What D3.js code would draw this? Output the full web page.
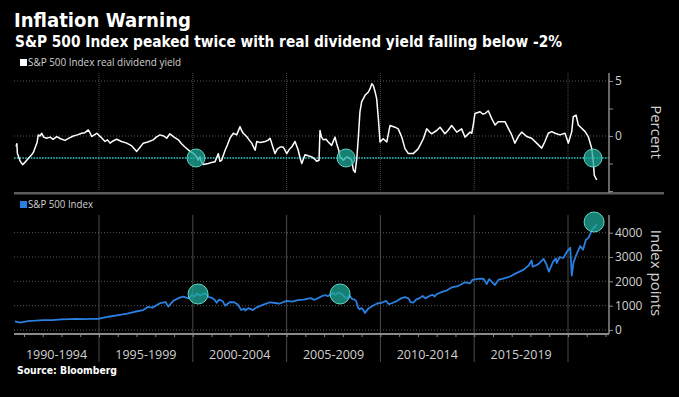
<!DOCTYPE html>
<html>
<head>
<meta charset="utf-8">
<script src="https://cdn.jsdelivr.net/npm/d3@7"></script>
<style>
  html, body { margin: 0; padding: 0; background: #000; }
  svg { display: block; font-family: "Open Sans", "DejaVu Sans", sans-serif; }
</style>
</head>
<body>
<svg width="679" height="397"></svg>
<script>
const svg = d3.select("svg");
const width = +svg.attr("width");
const height = +svg.attr("height");

// real dividend yield (percent)
const yieldYears = [1990.58,1990.62,1990.65,1990.8,1990.93,1991.05,1991.15,1991.3,1991.41,1991.5,1991.59,1991.7,1991.76,1991.85,1991.95,1992.05,1992.21,1992.4,1992.55,1992.75,1992.95,1993.19,1993.4,1993.63,1993.85,1994.08,1994.25,1994.43,1994.52,1994.61,1994.75,1994.88,1995.1,1995.32,1995.45,1995.59,1995.75,1995.94,1996.2,1996.48,1996.75,1997.01,1997.2,1997.36,1997.6,1997.89,1998.05,1998.25,1998.45,1998.61,1998.78,1999.0,1999.23,1999.4,1999.58,1999.85,2000.05,2000.21,2000.29,2000.38,2000.45,2000.56,2000.83,2001.0,2001.18,2001.36,2001.45,2001.54,2001.72,2001.85,2001.98,2002.16,2002.34,2002.52,2002.6,2002.69,2002.87,2003.0,2003.14,2003.32,2003.41,2003.6,2003.85,2004.0,2004.12,2004.25,2004.38,2004.5,2004.65,2004.82,2005.01,2005.15,2005.27,2005.45,2005.62,2005.72,2005.81,2005.98,2006.15,2006.34,2006.5,2006.6,2006.73,2006.76,2006.78,2006.86,2006.96,2007.1,2007.22,2007.4,2007.58,2007.67,2007.78,2007.85,2008.02,2008.2,2008.35,2008.47,2008.56,2008.65,2008.74,2008.82,2008.91,2009.0,2009.18,2009.36,2009.45,2009.54,2009.62,2009.72,2009.8,2009.89,2009.98,2010.15,2010.34,2010.51,2010.78,2010.95,2011.14,2011.31,2011.49,2011.75,2012.02,2012.29,2012.47,2012.6,2012.73,2013.0,2013.18,2013.44,2013.6,2013.8,2014.07,2014.33,2014.51,2014.78,2014.87,2014.95,2015.04,2015.31,2015.45,2015.58,2015.75,2015.93,2016.11,2016.28,2016.64,2016.82,2017.0,2017.17,2017.35,2017.53,2017.8,2018.06,2018.33,2018.6,2018.77,2018.95,2019.13,2019.31,2019.57,2019.84,2020.02,2020.2,2020.28,2020.43,2020.55,2020.73,2020.91,2021.08,2021.26,2021.35,2021.4,2021.53];
const yieldValues = [-0.95,-0.7,-1.6,-2.3,-2.6,-2.4,-2.2,-1.9,-1.7,-1.5,-1.1,-0.6,0.1,0.0,0.25,-0.1,-0.2,-0.1,-0.3,-0.05,-0.25,-0.4,-0.2,0.0,0.1,0.25,0.3,0.55,0.3,-0.05,0.1,0.25,-0.1,-0.5,-0.35,-0.65,-0.45,-0.3,-0.5,-0.65,-0.9,-1.4,-1.0,-0.65,-0.55,-0.35,-0.1,0.1,0.0,-0.2,0.2,-0.1,-0.35,-0.7,-1.0,-1.4,-1.6,-1.9,-2.2,-1.9,-2.3,-2.6,-2.5,-2.4,-2.35,-1.6,-2.3,-2.2,-1.3,-0.8,-0.2,0.25,0.1,0.85,0.5,0.25,-0.05,-0.35,-0.65,-1.3,-0.5,-0.6,-0.5,-0.4,-0.2,-0.9,-1.6,-1.2,-1.0,-1.0,-1.6,-1.2,-1.0,-0.5,-1.3,-2.0,-2.5,-1.7,-1.8,-1.9,-2.1,-2.3,-2.2,-0.5,0.5,-0.1,-0.35,-0.3,-0.55,-0.85,-0.1,-0.7,-1.3,-1.9,-2.2,-1.9,-2.0,-2.2,-3.1,-3.3,-2.05,-0.25,2.2,3.1,3.7,4.0,4.3,4.75,4.6,4.0,3.4,1.6,-0.55,-0.25,-0.55,0.95,0.8,0.65,-0.1,-1.15,-1.6,-1.6,-1.15,-0.25,0.65,0.4,0.2,0.5,0.8,0.2,0.5,0.95,0.35,0.65,-0.1,0.35,0.25,1.0,2.05,2.2,2.0,2.05,2.3,1.6,1.0,1.3,1.3,0.7,0.1,-0.65,-0.05,0.35,-0.05,-0.2,-0.65,-1.1,-0.5,0.25,0.4,0.25,0.1,0.25,-0.65,0.4,1.75,1.9,1.0,0.7,0.4,-0.05,-1.1,-2.35,-3.55,-4.0];

// S&P 500 index level
const spxYears = [1990.52,1990.65,1990.79,1991.0,1991.3,1991.6,1992.03,1992.5,1993.0,1993.81,1994.2,1994.6,1994.96,1995.5,1996.12,1996.5,1996.9,1997.36,1997.6,1997.85,1998.25,1998.55,1998.69,1998.96,1999.3,1999.49,1999.65,1999.8,1999.94,2000.1,2000.22,2000.38,2000.55,2000.7,2000.85,2001.0,2001.15,2001.27,2001.4,2001.6,2001.72,2001.98,2002.2,2002.4,2002.52,2002.58,2002.75,2002.8,2002.96,2003.2,2003.41,2003.6,2003.8,2004.12,2004.4,2004.6,2005.01,2005.3,2005.6,2005.89,2006.3,2006.45,2006.6,2006.9,2007.1,2007.2,2007.45,2007.6,2007.8,2007.95,2008.1,2008.2,2008.35,2008.5,2008.6,2008.7,2008.82,2008.9,2009.0,2009.09,2009.18,2009.36,2009.6,2009.8,2010.07,2010.3,2010.45,2010.6,2010.87,2011.1,2011.31,2011.5,2011.6,2011.75,2011.9,2012.11,2012.25,2012.4,2012.64,2012.8,2012.9,2013.0,2013.35,2013.5,2013.8,2014.07,2014.3,2014.5,2014.78,2014.9,2015.2,2015.49,2015.67,2015.8,2016.02,2016.1,2016.3,2016.5,2016.91,2017.3,2017.62,2017.9,2018.06,2018.12,2018.4,2018.7,2018.85,2018.98,2019.2,2019.35,2019.4,2019.55,2019.75,2019.95,2020.12,2020.2,2020.3,2020.45,2020.65,2020.8,2020.95,2021.1,2021.3,2021.44,2021.53];
const spxValues = [356,330,300,330,375,385,410,410,435,460,450,460,460,545,620,670,750,820,950,920,1100,1150,960,1200,1330,1370,1330,1300,1440,1380,1500,1420,1480,1500,1350,1330,1250,1120,1250,1180,1000,1150,1140,1050,900,820,880,800,900,820,930,990,1050,1140,1110,1080,1200,1170,1230,1250,1310,1240,1280,1400,1430,1390,1520,1450,1540,1470,1350,1290,1420,1270,1260,1200,900,850,900,820,700,880,1000,1080,1120,1200,1060,1100,1190,1300,1350,1300,1150,1130,1250,1320,1400,1300,1410,1440,1380,1470,1590,1610,1750,1790,1870,1960,1920,2060,2100,2110,1890,2090,1920,1850,2070,2100,2200,2360,2470,2650,2860,2600,2700,2920,2700,2400,2800,2940,2750,3000,2960,3230,3380,2240,2800,3100,3450,3300,3700,3800,4150,4250,4350];

const periodStarts = [1990, 1995, 2000, 2005, 2010, 2015, 2020];
const periodLabels = ["1990-1994", "1995-1999", "2000-2004", "2005-2009", "2010-2014", "2015-2019"];
const yieldTicks = [5, 0];
const yieldMinorTicks = [5, 2.5, 0, -2.5, -5];
const spxTicks = [0, 1000, 2000, 3000, 4000];
const threshold = -2;
const yieldHighlightYears = [2000.17, 2008.17, 2021.33];
const spxHighlightYears = [2000.28, 2007.85, 2021.39];
const spxHighlightValues = [1480, 1480, 4440];

const left = 14, right = 609;
const x = d3.scaleLinear().domain([1995, 2020]).range([99, 568]);
const yTop = d3.scaleLinear().domain([-5, 5]).range([191, 81]);
const yBot = d3.scaleLinear().domain([0, 4000]).range([330, 232.7]);

const gridColor = "#4a4a4a";
const axisColor = "#8a8a8a";
const labelColor = "#d0d0d0";
const boldFont = "'DejaVu Sans', 'Verdana', sans-serif";

// titles
svg.append("text").attr("x", 14).attr("y", 27)
    .attr("fill", "#fff").attr("font-size", 20).attr("font-weight", "bold")
    .style("font-family", boldFont)
    .attr("textLength", 177).attr("lengthAdjust", "spacingAndGlyphs")
    .text("Inflation Warning");
svg.append("text").attr("x", 15).attr("y", 47)
    .attr("fill", "#fff").attr("font-size", 15).attr("font-weight", "bold")
    .style("font-family", boldFont)
    .attr("textLength", 547).attr("lengthAdjust", "spacingAndGlyphs")
    .text("S&P 500 Index peaked twice with real dividend yield falling below -2%");

// legends
svg.append("rect").attr("x", 20).attr("y", 59).attr("width", 7).attr("height", 7).attr("fill", "#fff");
svg.append("text").attr("x", 28).attr("y", 66).attr("fill", labelColor).attr("font-size", 10)
    .attr("textLength", 153).attr("lengthAdjust", "spacingAndGlyphs")
    .text("S&P 500 Index real dividend yield");
svg.append("rect").attr("x", 20).attr("y", 201).attr("width", 7).attr("height", 7).attr("fill", "#2a7fe0");
svg.append("text").attr("x", 28).attr("y", 208).attr("fill", labelColor).attr("font-size", 10)
    .attr("textLength", 65).attr("lengthAdjust", "spacingAndGlyphs")
    .text("S&P 500 Index");

// vertical grid lines at period boundaries
const bounds = periodStarts.slice(1, 7);
svg.append("g").selectAll("line").data(bounds).enter().append("line")
    .attr("x1", d => x(d)).attr("x2", d => x(d))
    .attr("y1", 73).attr("y2", 191)
    .attr("stroke", gridColor).attr("stroke-dasharray", "1 1");
svg.append("g").selectAll("line").data(bounds).enter().append("line")
    .attr("x1", d => x(d)).attr("x2", d => x(d))
    .attr("y1", 215).attr("y2", 362)
    .attr("stroke", gridColor);

// horizontal grid
svg.append("g").selectAll("line").data(yieldTicks).enter().append("line")
    .attr("x1", left).attr("x2", right)
    .attr("y1", d => yTop(d)).attr("y2", d => yTop(d))
    .attr("stroke", "#5a5a5a").attr("stroke-dasharray", "1 2");
svg.append("g").selectAll("line").data(spxTicks).enter().append("line")
    .attr("x1", left).attr("x2", right)
    .attr("y1", d => yBot(d)).attr("y2", d => yBot(d))
    .attr("stroke", "#5a5a5a").attr("stroke-dasharray", "1 2");

// separator bar between the panels
svg.append("rect").attr("x", left).attr("y", 192).attr("width", 650).attr("height", 2.5).attr("fill", "#5c5c5c");

// threshold line
svg.append("line").attr("x1", left).attr("x2", right)
    .attr("y1", yTop(threshold)).attr("y2", yTop(threshold))
    .attr("stroke", "#2cc9c9").attr("stroke-width", 1.6).attr("stroke-dasharray", "1.6 1.2");

// series lines
const yieldData = yieldYears.map((d, i) => ({ t: d, v: yieldValues[i] }));
const spxData = spxYears.map((d, i) => ({ t: d, v: spxValues[i] }));

svg.append("path").datum(yieldData)
    .attr("fill", "none").attr("stroke", "#fff").attr("stroke-width", 1.5)
    .attr("stroke-linejoin", "round")
    .attr("d", d3.line().x(d => x(d.t)).y(d => yTop(d.v)));

svg.append("path").datum(spxData)
    .attr("fill", "none").attr("stroke", "#2a7fe0").attr("stroke-width", 1.8)
    .attr("stroke-linejoin", "round")
    .attr("d", d3.line().x(d => x(d.t)).y(d => yBot(d.v)));

// highlight circles
svg.append("g").selectAll("circle").data(yieldHighlightYears).enter().append("circle")
    .attr("cx", d => x(d)).attr("cy", yTop(threshold)).attr("r", 9)
    .attr("fill", "rgba(32,170,155,0.75)").attr("stroke", "#5fd6c6").attr("stroke-width", 1);
svg.append("g").selectAll("circle").data(spxHighlightYears).enter().append("circle")
    .attr("cx", d => x(d)).attr("cy", (d, i) => yBot(spxHighlightValues[i])).attr("r", 10)
    .attr("fill", "rgba(32,170,155,0.75)").attr("stroke", "#5fd6c6").attr("stroke-width", 1);

// right axes
const topAxis = svg.append("g").attr("transform", `translate(${right},0)`)
    .call(d3.axisRight(yTop).tickValues(yieldMinorTicks).tickSize(4)
        .tickFormat(d => yieldTicks.includes(d) ? d : ""));
topAxis.select(".domain").attr("d", "M0,73V193");
const botAxis = svg.append("g").attr("transform", `translate(${right},0)`)
    .call(d3.axisRight(yBot).tickValues(spxTicks).tickSize(4).tickFormat(d3.format("d")));
botAxis.select(".domain").attr("d", "M0,215V334");
[topAxis, botAxis].forEach(g => {
    g.attr("font-family", null);
    g.select(".domain").attr("stroke", axisColor).attr("stroke-width", 1.5);
    g.selectAll(".tick line").attr("stroke", axisColor);
    g.selectAll(".tick text").attr("fill", labelColor).attr("font-size", 12).attr("x", 6);
});

// axis titles
svg.append("text").attr("transform", "translate(651,132) rotate(90)")
    .attr("text-anchor", "middle").attr("fill", labelColor).attr("font-size", 15)
    .text("Percent");
svg.append("text").attr("transform", "translate(651,273) rotate(90)")
    .attr("text-anchor", "middle").attr("fill", labelColor).attr("font-size", 15)
    .text("Index points");

// bottom time axis with yearly ticks
const xAxis = svg.append("g").attr("transform", "translate(0,334)")
    .call(d3.axisBottom(x).tickValues(d3.range(1991, 2023)).tickSize(3).tickFormat(""));
xAxis.select(".domain").attr("d", `M${left},0H${right}`).attr("stroke", axisColor).attr("stroke-width", 2);
xAxis.selectAll(".tick line").attr("stroke", axisColor);

// period labels, centred in their visible span
svg.append("g").selectAll("text").data(periodLabels).enter().append("text")
    .attr("x", (d, i) => (Math.max(left, x(periodStarts[i])) + x(periodStarts[i + 1])) / 2)
    .attr("y", 358.5)
    .attr("text-anchor", "middle").attr("fill", labelColor).attr("font-size", 12.5)
    .text(d => d);

svg.append("text").attr("x", 17).attr("y", 374)
    .attr("fill", "#fff").attr("font-size", 10.5).attr("font-weight", "bold")
    .style("font-family", boldFont)
    .attr("textLength", 100).attr("lengthAdjust", "spacingAndGlyphs")
    .text("Source: Bloomberg");
</script>
</body>
</html>
